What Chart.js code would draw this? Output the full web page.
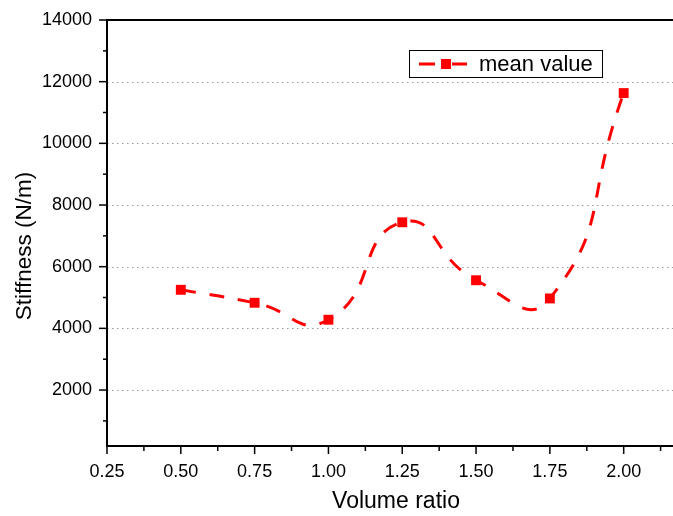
<!DOCTYPE html>
<html>
<head>
<meta charset="utf-8">
<title>Stiffness vs volume ratio</title>
<script src="https://cdn.jsdelivr.net/npm/chart.js@4/dist/chart.umd.min.js"></script>
<style>
  html, body { margin: 0; padding: 0; background: #fff; }
  canvas { display: block; }
</style>
</head>
<body>
<canvas id="stiffness-chart" width="673" height="516"></canvas>
<script>
// measured points
var volumeRatio = [0.50, 0.75, 1.00, 1.25, 1.50, 1.75, 2.00];
var stiffness = [5250, 4830, 4280, 7440, 5560, 4970, 11630];

// axis ticks
var xTicks = [0.25, 0.50, 0.75, 1.00, 1.25, 1.50, 1.75, 2.00];
var xMinor = [0.375, 0.625, 0.875, 1.125, 1.375, 1.625, 1.875, 2.125];
var yTicks = [2000, 4000, 6000, 8000, 10000, 12000, 14000];
var yMinor = [1000, 3000, 5000, 7000, 9000, 11000, 13000];

var FONT = '"Liberation Sans", Arial, sans-serif';
var RED = '#ff0000';

// dotted grid, axis lines with outward ticks, axis titles and the boxed legend
var framePlugin = {
    id: 'frame',
    beforeDatasetsDraw: function (chart) {
        var ctx = chart.ctx, a = chart.chartArea, y = chart.scales.y;
        ctx.save();
        ctx.strokeStyle = '#9a9a9a';
        ctx.lineWidth = 1;
        ctx.setLineDash([1.5, 3.5]);
        yTicks.forEach(function (v) {
            if (v >= 14000) return;
            var py = Math.round(y.getPixelForValue(v)) + 0.5;
            ctx.beginPath();
            ctx.moveTo(a.left, py);
            ctx.lineTo(a.right, py);
            ctx.stroke();
        });
        ctx.restore();
    },
    afterDraw: function (chart) {
        var ctx = chart.ctx, a = chart.chartArea, x = chart.scales.x, y = chart.scales.y;
        ctx.save();
        ctx.strokeStyle = '#000';

        // ticks
        ctx.lineWidth = 1.5;
        yTicks.forEach(function (v) {
            var py = y.getPixelForValue(v);
            ctx.beginPath(); ctx.moveTo(a.left - 8, py); ctx.lineTo(a.left, py); ctx.stroke();
        });
        yMinor.forEach(function (v) {
            var py = y.getPixelForValue(v);
            ctx.beginPath(); ctx.moveTo(a.left - 4, py); ctx.lineTo(a.left, py); ctx.stroke();
        });
        xTicks.forEach(function (v) {
            var px = x.getPixelForValue(v);
            ctx.beginPath(); ctx.moveTo(px, a.bottom); ctx.lineTo(px, a.bottom + 8); ctx.stroke();
        });
        xMinor.forEach(function (v) {
            var px = x.getPixelForValue(v);
            ctx.beginPath(); ctx.moveTo(px, a.bottom); ctx.lineTo(px, a.bottom + 5); ctx.stroke();
        });

        // axis lines: left, bottom and top
        ctx.lineWidth = 2;
        ctx.beginPath();
        ctx.moveTo(a.right, a.top);
        ctx.lineTo(a.left, a.top);
        ctx.lineTo(a.left, a.bottom);
        ctx.lineTo(a.right, a.bottom);
        ctx.stroke();

        // axis titles
        ctx.fillStyle = '#000';
        ctx.textAlign = 'center';
        ctx.textBaseline = 'middle';
        ctx.font = '23px ' + FONT;
        ctx.fillText('Volume ratio', 396, 502);
        ctx.save();
        ctx.translate(25, 246);
        ctx.rotate(-Math.PI / 2);
        ctx.font = '22.5px ' + FONT;
        ctx.fillText('Stiffness (N/m)', 0, 0);
        ctx.restore();

        // legend
        ctx.lineWidth = 1;
        ctx.fillStyle = '#fff';
        ctx.fillRect(409.5, 50.5, 193, 27);
        ctx.strokeRect(409.5, 50.5, 193, 27);
        ctx.strokeStyle = RED;
        ctx.lineWidth = 3;
        ctx.beginPath();
        ctx.moveTo(419, 64); ctx.lineTo(435, 64);
        ctx.moveTo(452, 64); ctx.lineTo(467, 64);
        ctx.stroke();
        ctx.fillStyle = RED;
        ctx.fillRect(441, 59, 10, 10);
        ctx.fillStyle = '#000';
        ctx.font = '22px ' + FONT;
        ctx.textAlign = 'left';
        ctx.fillText('mean value', 479, 65);
        ctx.restore();
    }
};

var points = volumeRatio.map(function (v, i) { return {x: v, y: stiffness[i]}; });

new Chart(document.getElementById('stiffness-chart').getContext('2d'), {
    type: 'line',
    data: {
        datasets: [
            {
                label: 'mean value',
                data: points,
                borderColor: RED,
                backgroundColor: RED,
                borderWidth: 3,
                borderDash: [15, 14],
                tension: 0.55,
                pointStyle: 'rect',
                pointRadius: 7,
                pointBorderWidth: 0,
                pointBackgroundColor: RED
            }
        ]
    },
    options: {
        responsive: false,
        animation: false,
        devicePixelRatio: 1,
        layout: {autoPadding: false, padding: {top: 20, right: 0, left: 0, bottom: 0}},
        plugins: {
            legend: {display: false},
            tooltip: {enabled: false}
        },
        scales: {
            x: {
                type: 'linear',
                min: 0.25,
                max: 2.167,
                grid: {display: false},
                border: {display: false},
                afterBuildTicks: function (scale) {
                    scale.ticks = xTicks.map(function (v) { return {value: v}; });
                },
                afterFit: function (scale) {
                    scale.height = 70;
                    scale.paddingLeft = 0;
                    scale.paddingRight = 0;
                },
                ticks: {
                    padding: 7,
                    maxRotation: 0,
                    color: '#000',
                    font: {family: FONT, size: 18},
                    callback: function (v) { return v.toFixed(2); }
                }
            },
            y: {
                min: 185,
                max: 14000,
                grid: {display: false},
                border: {display: false},
                afterBuildTicks: function (scale) {
                    scale.ticks = yTicks.map(function (v) { return {value: v}; });
                },
                afterFit: function (scale) {
                    scale.width = 107;
                    scale.paddingTop = 0;
                    scale.paddingBottom = 0;
                },
                ticks: {
                    padding: 7,
                    color: '#000',
                    font: {family: FONT, size: 18},
                    callback: function (v) { return String(v); }
                }
            }
        }
    },
    plugins: [framePlugin]
});
</script>
</body>
</html>
